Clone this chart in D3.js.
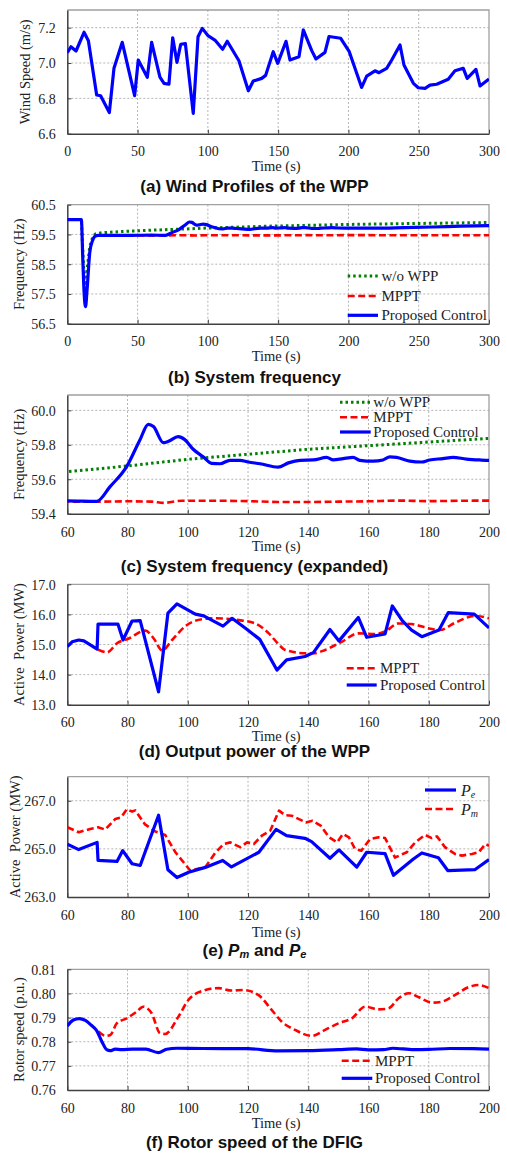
<!DOCTYPE html>
<html><head><meta charset="utf-8">
<script src="https://cdn.jsdelivr.net/npm/d3@7"></script>
<style>
body{margin:0;background:#fff;}
text{white-space:pre;}
</style></head>
<body><svg id="c" width="507" height="1154"></svg>
<script>
// ---- (a) wind profile ----
const windT = [0,2.6,6.2,11.9,15,20.9,23.7,29.9,33.2,39.1,47.9,50.5,56.9,60,65.9,68.8,72.3,75,78,80.7,84,89.6,93,96,100.3,105,110.5,113.8,122.1,128.8,132.3,138.3,141.1,146.5,149.7,155.6,158.4,164.8,167.9,173.9,176.9,183.3,186.2,194.5,200.6,209.4,213,218.9,221.7,227.2,230.8,236.7,239.5,246.2,249.7,254.5,258,262.8,271,275.8,281.7,284.5,290.7,293.6,300];
const windV = [7.058,7.092,7.068,7.174,7.126,6.819,6.815,6.72,6.97,7.117,6.815,7.017,6.919,7.117,6.92,6.885,6.88,7.143,7.004,7.106,7.11,6.715,7.149,7.196,7.153,7.13,7.078,7.123,7.013,6.843,6.898,6.913,6.93,7.064,6.998,7.123,7.017,7.036,7.187,7.07,7.023,7.06,7.15,7.14,7.064,6.862,6.926,6.956,6.945,6.97,7.017,7.102,6.989,6.885,6.86,6.857,6.875,6.88,6.908,6.956,6.97,6.913,6.964,6.87,6.91];

// ---- (b)/(c) system frequency ----
const fBlueT = [0,10,11,12,13,14,16,18,20,22,30,45,60,69.8,74.2,79.7,84.1,86.9,88.6,91.9,93.6,96.8,99,101.8,105.1,107.9,110.7,114,117.3,120.1,124,130,133.4,137.3,141.7,146.1,148.3,151.6,154.9,157.1,161.5,164.8,167.1,169.3,173.7,177.6,180.3,184.7,188,192.5,196.9,200,220,240,260,280,300];
const fBlueV = [60,60,58.7,57.5,57.07,57.6,58.9,59.3,59.45,59.47,59.47,59.472,59.475,59.472,59.557,59.673,59.828,59.919,59.906,59.812,59.82,59.847,59.83,59.774,59.73,59.692,59.69,59.71,59.71,59.70,59.69,59.67,59.695,59.71,59.712,59.727,59.712,59.72,59.727,59.71,59.705,59.712,59.73,59.727,59.705,59.70,59.712,59.72,59.727,59.717,59.712,59.71,59.71,59.73,59.75,59.78,59.80];
const fGreenT = [0,10,11,12.5,14,16,18,20,25,40,60,80,100,140,200,250,300];
const fGreenV = [60,60,59.0,57.5,58.3,59.1,59.4,59.52,59.56,59.60,59.644,59.677,59.716,59.774,59.837,59.87,59.90];
const fRedT = [20,70,80,88,92,98,110,120,130,140,150,160,170,180,190,200,250,300];
const fRedV = [59.47,59.47,59.472,59.47,59.463,59.475,59.475,59.473,59.468,59.468,59.47,59.472,59.476,59.473,59.475,59.476,59.475,59.475];

// ---- (d) WPP output power ----
const pBlueT = [60,61.6,63.8,65.5,69.9,70.2,76.8,78.5,81.5,84.2,90.3,93.4,96.4,102.5,105.3,111.7,114.7,119.7,123.9,129.6,132.8,138.9,141.7,147.2,150.2,156.6,159.4,165.5,167.9,171.2,174.3,177.7,183.4,186.5,195.1,200];
const pBlueV = [14.93,15.09,15.15,15.12,14.85,15.68,15.68,15.15,15.78,15.79,13.43,16.04,16.35,16.01,15.95,15.61,15.87,15.5,15.17,14.15,14.49,14.6,14.73,15.5,15.12,15.9,15.24,15.35,16.28,15.79,15.48,15.26,15.48,16.06,16.01,15.55];
const pRedT = [70.2,73.2,76.5,80.4,85.9,88.7,91.5,94.8,99.2,104.7,109.1,116.9,122.4,126.9,130.7,132.3,138.9,141.9,145.6,151.1,156.6,162.2,165.5,169.9,174.3,179.8,183.7,188.7,195.4,200];
const pRedV = [14.83,14.74,15.04,15.2,15.46,15.2,14.8,15.15,15.61,15.84,15.87,15.81,15.7,15.37,14.95,14.82,14.71,14.71,14.82,15.09,15.37,15.35,15.43,15.7,15.68,15.54,15.48,15.72,15.95,15.87];

// ---- (e) Pm and Pe ----
const peT = [60,63.8,69.9,70.2,76.5,78.4,81.5,84.2,90.3,93.4,96.4,100.3,105.8,111.6,114.5,123.6,129.3,132.8,138.9,141.1,147.2,150.2,156.1,159.4,165.5,168.3,174.9,177.7,183.2,186.3,195.4,200];
const peV = [265.2,264.97,265.27,264.52,264.48,264.93,264.38,264.31,266.4,264.13,263.81,264.03,264.23,264.52,264.25,264.86,265.81,265.55,265.44,265.3,264.61,264.96,264.24,264.86,264.8,263.9,264.58,264.83,264.63,264.1,264.14,264.56];
const pmT = [60,63.8,67.6,70.2,72.6,75.9,77.9,79.8,81.5,82.6,85.7,89.2,92.5,95.9,100.8,105.8,109.1,111.9,114.1,117.4,119.7,121.9,124.6,127.4,130.3,132.3,134.5,139.2,141.4,144.1,146.9,149.6,151.5,153.5,155.5,157.6,160.5,163.3,165.5,168.8,172.7,175.5,178.8,181,182.7,185.4,188.7,191,194.4,196.6,198.8,200];
const pmV = [265.9,265.69,265.83,265.9,265.8,266.24,266.31,266.65,266.55,266.6,266.03,265.72,265.58,264.86,264.1,264.24,264.83,265.2,265.27,265.07,265.27,265.2,265.55,265.76,266.59,266.4,266.38,266.1,266.17,265.97,265.48,265.27,265.62,265.48,265.0,264.92,265.41,265.48,265.45,264.64,264.86,265.27,265.58,265.45,265.52,265.07,264.79,264.72,264.79,264.86,265.2,265.13];

// ---- (f) rotor speed ----
const wBlueT = [60,62,64,66,68,69.7,71.5,73.1,74.2,75.9,78,81.7,86.1,90.2,93,96.4,105,120,130,140,150,156,160,165,168,175,180,187,195,200];
const wBlueV = [0.7865,0.789,0.7896,0.7888,0.7868,0.7847,0.780,0.7767,0.7763,0.7769,0.7767,0.7769,0.7769,0.7755,0.7769,0.7773,0.7772,0.7771,0.7762,0.7763,0.7767,0.777,0.7766,0.7767,0.7773,0.7767,0.7768,0.7772,0.7771,0.7769];
const wRedT = [70.3,72.8,74.3,76.4,79.7,83,85.2,88,90.8,92.5,96.9,100.2,104.7,110.2,114.6,118.5,123.4,127.9,131.2,135.6,141.2,145.6,150,154.5,158.9,163.3,166.6,170,173.4,176.7,181.1,184.4,188.8,193.2,196.5,200];
const wRedV = [0.7842,0.7824,0.7828,0.7876,0.7897,0.7924,0.7945,0.7918,0.7835,0.7832,0.7904,0.7973,0.801,0.8022,0.8012,0.8014,0.7994,0.7931,0.7883,0.7849,0.7824,0.7849,0.7876,0.7897,0.7945,0.7934,0.7938,0.798,0.8001,0.7984,0.7962,0.7966,0.7994,0.8026,0.8035,0.8022];

// tick labels
const xTicksA = [0,50,100,150,200,250,300];
const xTicksC = [60,80,100,120,140,160,180,200];
const yTicksA = [6.6,6.8,7.0,7.2];
const yTicksB = [56.5,57.5,58.5,59.5,60.5];
const yTicksC = [59.4,59.6,59.8,60.0];
const yTicksD = [13,14,15,16,17];
const yTicksE = [263,265,267];
const yTicksF = [0.76,0.77,0.78,0.79,0.80,0.81];

const svg = d3.select('#c');
const L = 67.3, R = 489;
const BLUE = '#0000ff', RED = '#ff0000', GREEN = '#008000';
const styles = {
  blue: {stroke: BLUE, w: 3.2, dash: null},
  red: {stroke: RED, w: 2.6, dash: '7,3.5'},
  green: {stroke: GREEN, w: 3, dash: '2.5,3'}
};
let clipId = 0;

function panel(cfg) {
  const x = d3.scaleLinear().domain(cfg.xd).range([L, R]);
  const y = d3.scaleLinear().domain(cfg.yd).range([cfg.bottom, cfg.top]);
  const g = svg.append('g');
  // grid
  g.selectAll('.gx').data(cfg.xt.slice(1, -1)).join('line')
    .attr('x1', d => x(d)).attr('x2', d => x(d)).attr('y1', cfg.top).attr('y2', cfg.bottom)
    .attr('stroke', '#b4b4b4').attr('stroke-width', 1).attr('stroke-dasharray', '2,2');
  g.selectAll('.gy').data(cfg.yt.filter(v => v > cfg.yd[0] + 1e-9 && v < cfg.yd[1] - 1e-9)).join('line')
    .attr('x1', L).attr('x2', R).attr('y1', d => y(d)).attr('y2', d => y(d))
    .attr('stroke', '#b4b4b4').attr('stroke-width', 1).attr('stroke-dasharray', '2,2');
  // frame top/right
  g.append('path').attr('d', `M${L},${cfg.top}H${R}V${cfg.bottom}`).attr('fill', 'none')
    .attr('stroke', '#a0a0a0').attr('stroke-width', 1.3);
  // axes
  const xa = g.append('g').attr('transform', `translate(0,${cfg.bottom})`)
    .call(d3.axisBottom(x).tickValues(cfg.xt).tickSize(-4).tickSizeOuter(0).tickFormat(d3.format('d')));
  const ya = g.append('g').attr('transform', `translate(${L},0)`)
    .call(d3.axisLeft(y).tickValues(cfg.yt).tickSize(-4).tickSizeOuter(0).tickFormat(d3.format(cfg.yf)));
  [xa, ya].forEach(a => {
    a.select('.domain').attr('stroke', '#404040').attr('stroke-width', 1.5);
    a.selectAll('.tick line').attr('stroke', '#404040');
    a.selectAll('text').attr('font-family', 'Liberation Serif').attr('font-size', 14).attr('fill', '#222');
  });
  xa.selectAll('text').attr('dy', null).attr('y', null)
    .attr('transform', null).attr('dominant-baseline', 'central')
    .each(function(){ d3.select(this).attr('y', cfg.xtl - cfg.bottom); });
  ya.selectAll('text').attr('x', -11.5).attr('dy', '0.35em');
  // axis labels
  g.append('text').attr('x', (L + R) / 2 - 2).attr('y', cfg.xl).attr('text-anchor', 'middle')
    .attr('dominant-baseline', 'central').attr('font-family', 'Liberation Serif').attr('font-size', 14.5)
    .attr('fill', '#222').text('Time (s)');
  g.append('text').attr('transform', `translate(${cfg.ylx},${(cfg.top + cfg.bottom) / 2}) rotate(-90)`)
    .attr('text-anchor', 'middle').attr('dominant-baseline', 'central').attr('font-family', 'Liberation Serif')
    .attr('font-size', 14.5).attr('fill', '#222').text(cfg.ylab);
  // lines
  const id = 'clip' + (clipId++);
  svg.append('clipPath').attr('id', id).append('rect')
    .attr('x', L).attr('y', cfg.top - 2).attr('width', R - L).attr('height', cfg.bottom - cfg.top + 2);
  const lg = g.append('g').attr('clip-path', `url(#${id})`);
  cfg.series.forEach(s => {
    const st = styles[s.style];
    const data = s.t.map((t, i) => [t, s.v[i]]);
    const line = d3.line().x(d => x(d[0])).y(d => y(d[1])).curve(s.smooth ? d3.curveMonotoneX : d3.curveLinear);
    lg.append('path').attr('d', line(data)).attr('fill', 'none').attr('stroke', st.stroke)
      .attr('stroke-width', st.w).attr('stroke-dasharray', st.dash).attr('stroke-linejoin', 'round');
  });
  // legend
  if (cfg.legend) {
    const lgd = cfg.legend;
    lgd.items.forEach((it, i) => {
      const st = styles[it.style];
      const yy = lgd.rows[i];
      g.append('line').attr('x1', lgd.x1).attr('x2', lgd.x2).attr('y1', yy).attr('y2', yy)
        .attr('stroke', st.stroke).attr('stroke-width', st.w).attr('stroke-dasharray', st.dash);
      const t = g.append('text').attr('x', lgd.tx).attr('y', yy).attr('dominant-baseline', 'central')
        .attr('font-family', 'Liberation Serif').attr('font-size', 15).attr('fill', '#222');
      if (it.sub) {
        t.append('tspan').attr('font-style', 'italic').attr('font-size', 16).text('P');
        t.append('tspan').attr('font-style', 'italic').attr('font-size', 10).attr('dy', 4).text(it.sub);
      } else t.text(it.label);
    });
  }
  // title
  const tt = svg.append('text').attr('x', 254.5).attr('y', cfg.title).attr('text-anchor', 'middle')
    .attr('dominant-baseline', 'central').attr('font-family', 'Liberation Sans').attr('font-weight', 'bold')
    .attr('font-size', 17).attr('fill', '#111');
  if (cfg.titleParts) {
    cfg.titleParts.forEach(p => {
      const ts = tt.append('tspan').text(p.t);
      if (p.i) ts.attr('font-style', 'italic');
      if (p.sub) ts.attr('font-size', 11).attr('dy', p.dy);
      if (p.dy && !p.sub) ts.attr('dy', p.dy);
    });
  } else tt.text(cfg.titleText);
}

panel({xd: [0, 300], yd: [6.6, 7.3], top: 10, bottom: 133.7, xt: xTicksA, yt: yTicksA, yf: '.1f',
  xtl: 151.7, xl: 165.5, ylx: 25, ylab: 'Wind Speed (m/s)', title: 186.5,
  titleText: '(a) Wind Profiles of the WPP',
  series: [{t: windT, v: windV, style: 'blue'}]});

panel({xd: [0, 300], yd: [56.5, 60.5], top: 204.7, bottom: 323.7, xt: xTicksA, yt: yTicksB, yf: '.1f',
  xtl: 341.7, xl: 355.5, ylx: 18.5, ylab: 'Frequency (Hz)', title: 377.3,
  titleText: '(b) System frequency',
  series: [{t: fGreenT, v: fGreenV, style: 'green'}, {t: fRedT, v: fRedV, style: 'red'}, {t: fBlueT, v: fBlueV, style: 'blue', smooth: true}],
  legend: {x1: 347.7, x2: 378, tx: 381.5, rows: [276, 296, 315.3],
    items: [{style: 'green', label: 'w/o WPP'}, {style: 'red', label: 'MPPT'}, {style: 'blue', label: 'Proposed Control'}]}});

panel({xd: [60, 200], yd: [59.4, 60.089], top: 395, bottom: 513.7, xt: xTicksC, yt: yTicksC, yf: '.1f',
  xtl: 532.3, xl: 545.5, ylx: 19, ylab: 'Frequency (Hz)', title: 566.7,
  titleText: '(c) System frequency (expanded)',
  series: [{t: fGreenT, v: fGreenV, style: 'green'}, {t: fRedT, v: fRedV, style: 'red', smooth: true}, {t: fBlueT, v: fBlueV, style: 'blue', smooth: true}],
  legend: {x1: 340, x2: 370.7, tx: 373.3, rows: [402.3, 417.3, 432],
    items: [{style: 'green', label: 'w/o WPP'}, {style: 'red', label: 'MPPT'}, {style: 'blue', label: 'Proposed Control'}]}});

panel({xd: [60, 200], yd: [13, 17], top: 584.3, bottom: 704.7, xt: xTicksC, yt: yTicksD, yf: '.1f',
  xtl: 722.3, xl: 735.5, ylx: 19, ylab: 'Active  Power (MW)', title: 751.7,
  titleText: '(d) Output power of the WPP',
  series: [{t: pRedT, v: pRedV, style: 'red', smooth: true}, {t: pBlueT, v: pBlueV, style: 'blue'}],
  legend: {x1: 346.7, x2: 376.7, tx: 380, rows: [668.3, 685],
    items: [{style: 'red', label: 'MPPT'}, {style: 'blue', label: 'Proposed Control'}]}});

panel({xd: [60, 200], yd: [263, 268], top: 776.7, bottom: 897, xt: xTicksC, yt: yTicksE, yf: '.1f',
  xtl: 915.7, xl: 931.7, ylx: 15, ylab: 'Active  Power (MW)', title: 950,
  titleParts: [{t: '(e) '}, {t: 'P', i: true}, {t: 'm', i: true, sub: true, dy: 4}, {t: ' and ', dy: -4}, {t: 'P', i: true}, {t: 'e', i: true, sub: true, dy: 4}],
  series: [{t: pmT, v: pmV, style: 'red'}, {t: peT, v: peV, style: 'blue'}],
  legend: {x1: 425, x2: 456, tx: 461, rows: [790, 809],
    items: [{style: 'blue', sub: 'e'}, {style: 'red', sub: 'm'}]}});

panel({xd: [60, 200], yd: [0.76, 0.81], top: 969.3, bottom: 1090, xt: xTicksC, yt: yTicksF, yf: '.2f',
  xtl: 1108.3, xl: 1123.3, ylx: 19, ylab: 'Rotor speed (p.u.)', title: 1142.7,
  titleText: '(f) Rotor speed of the DFIG',
  series: [{t: wRedT, v: wRedV, style: 'red', smooth: true}, {t: wBlueT, v: wBlueV, style: 'blue', smooth: true}],
  legend: {x1: 341.7, x2: 372.3, tx: 375, rows: [1060.7, 1078.3],
    items: [{style: 'red', label: 'MPPT'}, {style: 'blue', label: 'Proposed Control'}]}});
</script></body></html>
